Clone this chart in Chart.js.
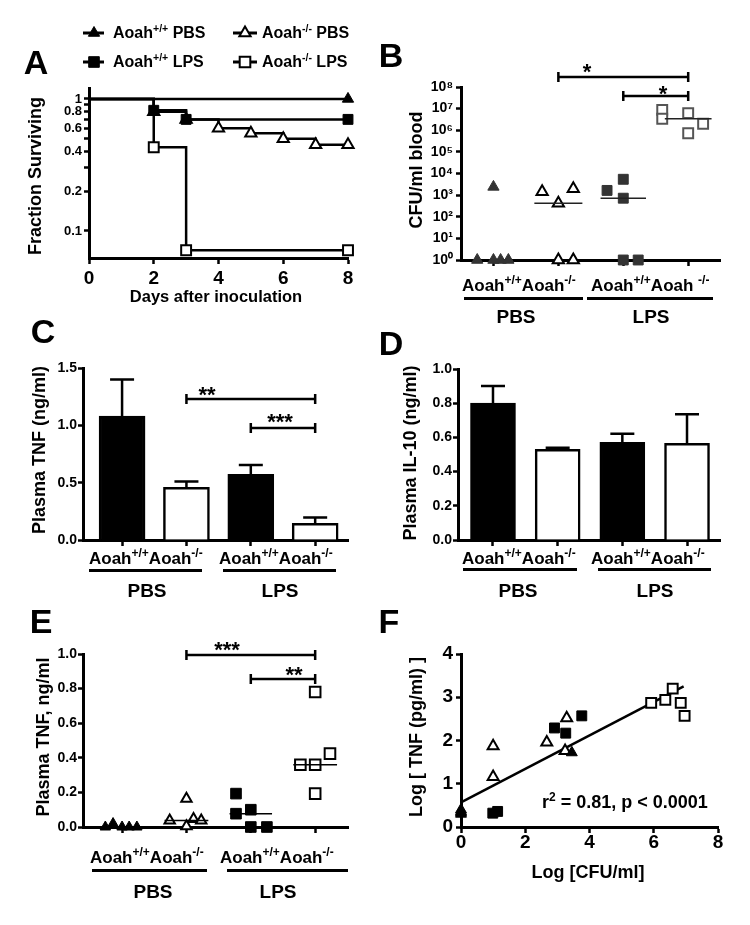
<!DOCTYPE html>
<html>
<head>
<meta charset="utf-8">
<title>Aoah figure</title>
<script src="https://cdn.jsdelivr.net/npm/chart.js@4.4.1/dist/chart.umd.min.js"></script>
<style>
  html, body { margin:0; padding:0; background:#fff; }
  #fig { position:relative; width:750px; height:925px; overflow:hidden; background:#fff;
         font-family:"Liberation Sans", Arial, Helvetica, sans-serif; font-weight:bold; color:#000; }
  #fig canvas { position:absolute; left:0; top:0; width:750px; height:925px; }
  .t { position:absolute; white-space:nowrap; line-height:1; }
  .u { position:absolute; height:3px; background:#000; }
</style>
</head>
<body>
<div id="fig">
  <canvas id="cA" width="750" height="925"></canvas>
  <canvas id="cB" width="750" height="925"></canvas>
  <canvas id="cC" width="750" height="925"></canvas>
  <canvas id="cD" width="750" height="925"></canvas>
  <canvas id="cE" width="750" height="925"></canvas>
  <canvas id="cF" width="750" height="925"></canvas>
</div>
<script>
// ================= DATA =================
// A: survival (fraction surviving vs days)
const daysWtPBS = [0, 8];
const survWtPBS = [1, 1];
const daysWtLPS = [0, 2, 3, 8];
const survWtLPS = [1, 0.82, 0.70, 0.70];
const daysKoPBS = [0, 2, 3, 4, 5, 6, 7, 8];
const survKoPBS = [1, 0.80, 0.70, 0.60, 0.55, 0.50, 0.45, 0.45];
const daysKoLPS = [0, 2, 3, 8];
const survKoLPS = [1, 0.43, 0.0714, 0.0714];
const xTicksA = [0, 2, 4, 6, 8];
const yTicksA = [0.1, 0.2, 0.4, 0.6, 0.8, 1];
const yMinorTicksA = [0.3, 0.5, 0.7, 0.9];

// groups (shared by B–E)
const groupIdx = [1, 2, 3, 4];

// B: CFU/ml blood (log)
const cfuWtPBS = [1, 1, 1, 1, 2400];
const cfuKoPBS = [1450, 420, 1950, 1, 1];
const cfuWtLPS = [1650, 5400, 720, 1, 1];
const cfuKoLPS = [8.8e6, 3.4e6, 6.2e6, 7.3e5, 2.0e6];
const jitB_WtPBS = [-0.25, 0, 0.11, 0.23, 0];
const jitB_KoPBS = [-0.25, 0, 0.23, 0, 0.23];
const jitB_WtLPS = [-0.25, 0, 0, 0, 0.23];
const jitB_KoLPS = [-0.4, -0.4, 0, 0, 0.23];
const yTicksB = [1, 1e1, 1e2, 1e3, 1e4, 1e5, 1e6, 1e7, 1e8];

// C: plasma TNF (ng/ml), mean + SEM
const tnfMeanC = [1.08, 0.46, 0.573, 0.146];
const tnfSemC  = [0.32, 0.05, 0.08, 0.05];
const yTicksC = [0, 0.5, 1.0, 1.5];

// D: plasma IL-10 (ng/ml), mean + SEM
const il10MeanD = [0.80, 0.53, 0.571, 0.565];
const il10SemD  = [0.10, 0.01, 0.05, 0.17];
const yTicksD = [0, 0.2, 0.4, 0.6, 0.8, 1.0];

// E: plasma TNF, ng/ml (individual mice)
const tnfWtPBS = [0, 0.02, 0, 0, 0];
const tnfKoPBS = [0.037, 0.164, 0.005, 0.046, 0.037];
const tnfWtLPS = [0.193, 0.077, 0.10, 0, 0];
const tnfKoLPS = [0.78, 0.36, 0.36, 0.424, 0.193];
const jitE_WtPBS = [-0.26, -0.14, 0, 0.11, 0.23];
const jitE_KoPBS = [-0.26, 0, 0, 0.11, 0.23];
const jitE_WtLPS = [-0.23, -0.23, 0, 0, 0.25];
const jitE_KoLPS = [0, -0.23, 0, 0.23, 0];
const yTicksE = [0, 0.2, 0.4, 0.6, 0.8, 1.0];

// F: log TNF vs log CFU
const logCfuWtPBS = [0, 0, 0, 0, 3.45];
const logTnfWtPBS = [0.30, 0.36, 0.40, 0.33, 1.72];
const logCfuKoPBS = [1.0, 1.0, 2.67, 3.29, 3.24];
const logTnfKoPBS = [1.87, 1.16, 1.96, 2.52, 1.76];
const logCfuWtLPS = [0.99, 1.14, 2.91, 3.26, 3.76];
const logTnfWtLPS = [0.32, 0.36, 2.29, 2.17, 2.57];
const logCfuKoLPS = [5.92, 6.36, 6.59, 6.84, 6.96];
const logTnfKoLPS = [2.87, 2.94, 3.20, 2.87, 2.57];
const fitLineX = [0, 6.93];
const fitLineY = [0.57, 3.25];
const xTicksF = [0, 2, 4, 6, 8];
const yTicksF = [0, 1, 2, 3, 4];

// significance brackets (group from, group to, height in data units, label)
const bracketsB = [{ from: 2, to: 4, y: 2.9e8 }, { from: 3, to: 4, y: 3.8e7 }];
const bracketsC = [{ from: 2, to: 4, y: 1.23 }, { from: 3, to: 4, y: 0.977 }];
const bracketsE = [{ from: 2, to: 4, y: 0.994 }, { from: 3, to: 4, y: 0.855 }];

// ================= STYLE / HELPERS =================
const FONT = '"Liberation Sans", Arial, Helvetica, sans-serif';
Chart.defaults.font.family = FONT;
Chart.defaults.font.weight = 'bold';
Chart.defaults.color = '#000';
Chart.defaults.animation = false;
Chart.defaults.plugins.legend.display = false;
Chart.defaults.plugins.tooltip.enabled = false;
const SUPD = ['\u2070','\u00B9','\u00B2','\u00B3','\u2074','\u2075','\u2076','\u2077','\u2078','\u2079'];

function layout(a, yW, xH) {
  return { padding: { left: a.l - yW, right: 750 - a.r, top: a.t, bottom: 925 - a.b - xH } };
}
function axis(o) {
  return {
    type: o.type, position: o.pos, min: o.min, max: o.max, offset: false,
    grid: { display: true, drawOnChartArea: false, drawTicks: true, tickLength: o.tl,
            tickWidth: 2.5, tickColor: '#000', color: '#000', offset: false },
    border: { display: true, color: '#000', width: 3 },
    ticks: { autoSkip: false, maxRotation: 0, minRotation: 0, padding: o.pad, color: '#000',
             font: { size: o.fs, weight: 'bold', lineHeight: 1 }, callback: o.cb },
    afterBuildTicks: s => { s.ticks = o.ticks.map(v => ({ value: v })); },
    afterFit: s => { if (o.pos === 'left') s.width = o.size; else s.height = o.size; }
  };
}
const median = arr => { const s = [...arr].sort((a, b) => a - b); return s[Math.floor(s.length / 2)]; };

function pts(g, vals, jit, style, fill, stroke, r, bw) {
  return { data: vals.map((v, i) => ({ x: g + jit[i], y: v })), pointStyle: style, pointRadius: r,
           pointBackgroundColor: fill, pointBorderColor: stroke, pointBorderWidth: bw,
           showLine: false, clip: false };
}
function medLine(g, vals, half, color) {
  const m = median(vals);
  return { data: [{ x: g - half, y: m }, { x: g + half, y: m }], showLine: true, borderColor: color,
           borderWidth: 1.5, pointRadius: 0, fill: false, clip: false };
}
function bracketPlugin(list) {
  return { id: 'brk', afterDraw(chart) {
    const c = chart.ctx, xs = chart.scales.x, ys = chart.scales.y;
    c.save(); c.strokeStyle = '#000'; c.lineWidth = 2.5;
    list.forEach(b => {
      const x1 = xs.getPixelForValue(b.from), x2 = xs.getPixelForValue(b.to), y = ys.getPixelForValue(b.y);
      c.beginPath();
      c.moveTo(x1, y); c.lineTo(x2, y);
      c.moveTo(x1, y - 5); c.lineTo(x1, y + 5);
      c.moveTo(x2, y - 5); c.lineTo(x2, y + 5);
      c.stroke();
    });
    c.restore();
  } };
}
function errPlugin(sem) {
  return { id: 'err', afterDatasetsDraw(chart) {
    const c = chart.ctx, ys = chart.scales.y, meta = chart.getDatasetMeta(0), d = chart.data.datasets[0].data;
    c.save(); c.strokeStyle = '#000'; c.lineWidth = 2.5;
    meta.data.forEach((bar, i) => {
      const top = ys.getPixelForValue(d[i].y + sem[i]);
      c.beginPath();
      c.moveTo(bar.x, bar.y); c.lineTo(bar.x, top);
      c.moveTo(bar.x - 12, top); c.lineTo(bar.x + 12, top);
      c.stroke();
    });
    c.restore();
  } };
}

// ================= A =================
function survDs(xs, ys, style, filled, r) {
  return { data: xs.map((x, i) => ({ x, y: ys[i] })), stepped: 'before', borderColor: '#000', borderWidth: 2.5,
           fill: false, pointStyle: style, pointRadius: xs.map((x, i) => i === 0 ? 0 : r),
           pointBackgroundColor: filled ? '#000' : '#fff', pointBorderColor: '#000',
           pointBorderWidth: filled ? 1 : 2, clip: false };
}
const legendA = { id: 'legA', afterDraw(chart) {
  const c = chart.ctx;
  const items = [[94, 33, 'triangle', true, 83, 104], [245, 33, 'triangle', false, 233, 257],
                 [94, 62, 'rect', true, 83, 104], [245, 62, 'rect', false, 233, 257]];
  c.save();
  items.forEach(([x, y, st, f, l1, l2]) => {
    c.strokeStyle = '#000'; c.lineWidth = 3;
    c.beginPath(); c.moveTo(l1, y); c.lineTo(l2, y); c.stroke();
    c.fillStyle = f ? '#000' : '#fff'; c.lineWidth = f ? 1 : 2;
    Chart.helpers.drawPoint(c, { pointStyle: st, radius: st === 'rect' ? 7.5 : 6.5, borderWidth: f ? 1 : 2, rotation: 0 }, x, y);
  });
  c.restore();
} };
const areaA = { l: 89, r: 348, t: 88, b: 258 };
new Chart(document.getElementById('cA'), {
  type: 'line',
  data: { datasets: [
    survDs(daysKoLPS, survKoLPS, 'rect', false, 7),
    survDs(daysWtLPS, survWtLPS, 'rect', true, 7),
    survDs(daysKoPBS, survKoPBS, 'triangle', false, 6.5),
    survDs(daysWtPBS, survWtPBS, 'triangle', true, 6.5)
  ] },
  options: { responsive: false, layout: layout(areaA, 50, 45),
    scales: {
      x: axis({ type: 'linear', pos: 'bottom', min: 0, max: 8, ticks: xTicksA, fs: 19, tl: 6, pad: 5.5, size: 45, cb: v => String(v) }),
      y: axis({ type: 'logarithmic', pos: 'left', min: 0.0624, max: 1.21, ticks: [...yTicksA, ...yMinorTicksA].sort((a,b)=>a-b),
                fs: 13, tl: 5, pad: 2, size: 50, cb: v => yTicksA.some(t => Math.abs(t - v) < 1e-9) ? String(v) : '' })
    } },
  plugins: [legendA]
});

// ================= B =================
const areaB = { l: 461, r: 720, t: 87, b: 260 };
new Chart(document.getElementById('cB'), {
  type: 'scatter',
  data: { datasets: [
    medLine(2, cfuKoPBS, 0.37, '#222'), medLine(3, cfuWtLPS, 0.35, '#222'), medLine(4, cfuKoLPS, 0.36, '#222'),
    pts(1, cfuWtPBS, jitB_WtPBS, 'triangle', '#333', '#333', 6.5, 1),
    pts(2, cfuKoPBS, jitB_KoPBS, 'triangle', '#fff', '#000', 6.5, 2),
    pts(3, cfuWtLPS, jitB_WtLPS, 'rect', '#333', '#333', 7, 1),
    pts(4, cfuKoLPS, jitB_KoLPS, 'rect', '#fff', '#555', 7, 2)
  ] },
  options: { responsive: false, layout: layout(areaB, 50, 20),
    scales: {
      x: axis({ type: 'linear', pos: 'bottom', min: 0.5, max: 4.49, ticks: groupIdx, fs: 12, tl: 6, pad: 2, size: 20, cb: () => '' }),
      y: axis({ type: 'logarithmic', pos: 'left', min: 1, max: 1e8, ticks: yTicksB, fs: 14, tl: 5, pad: 3, size: 50,
                cb: v => '10' + SUPD[Math.round(Math.log10(v))] })
    } },
  plugins: [bracketPlugin(bracketsB)]
});

// ================= C =================
const areaC = { l: 83, r: 348, t: 368, b: 540 };
new Chart(document.getElementById('cC'), {
  type: 'bar',
  data: { datasets: [{ data: groupIdx.map((g, i) => ({ x: g, y: tnfMeanC[i] })),
    backgroundColor: ['#000', '#fff', '#000', '#fff'], borderColor: '#000', borderWidth: 2.5, barThickness: 46 }] },
  options: { responsive: false, layout: layout(areaC, 45, 20),
    scales: {
      x: axis({ type: 'linear', pos: 'bottom', min: 0.393, max: 4.51, ticks: groupIdx, fs: 12, tl: 6, pad: 2, size: 20, cb: () => '' }),
      y: axis({ type: 'linear', pos: 'left', min: 0, max: 1.5, ticks: yTicksC, fs: 14, tl: 5, pad: 1, size: 45, cb: v => v.toFixed(1) })
    } },
  plugins: [errPlugin(tnfSemC), bracketPlugin(bracketsC)]
});

// ================= D =================
const areaD = { l: 458, r: 720, t: 369, b: 540 };
new Chart(document.getElementById('cD'), {
  type: 'bar',
  data: { datasets: [{ data: groupIdx.map((g, i) => ({ x: g, y: il10MeanD[i] })),
    backgroundColor: ['#000', '#fff', '#000', '#fff'], borderColor: '#000', borderWidth: 2.5, barThickness: 45 }] },
  options: { responsive: false, layout: layout(areaD, 45, 20),
    scales: {
      x: axis({ type: 'linear', pos: 'bottom', min: 0.459, max: 4.51, ticks: groupIdx, fs: 12, tl: 6, pad: 2, size: 20, cb: () => '' }),
      y: axis({ type: 'linear', pos: 'left', min: 0, max: 1.0, ticks: yTicksD, fs: 14, tl: 5, pad: 1, size: 45, cb: v => v.toFixed(1) })
    } },
  plugins: [errPlugin(il10SemD)]
});

// ================= E =================
const areaE = { l: 83, r: 348, t: 654, b: 827 };
new Chart(document.getElementById('cE'), {
  type: 'scatter',
  data: { datasets: [
    medLine(2, tnfKoPBS, 0.34, '#000'), medLine(3, tnfWtLPS, 0.33, '#000'), medLine(4, tnfKoLPS, 0.34, '#000'),
    pts(1, tnfWtPBS, jitE_WtPBS, 'triangle', '#000', '#000', 6, 1),
    pts(2, tnfKoPBS, jitE_KoPBS, 'triangle', '#fff', '#000', 6, 2),
    pts(3, tnfWtLPS, jitE_WtLPS, 'rect', '#000', '#000', 7.5, 1),
    pts(4, tnfKoLPS, jitE_KoLPS, 'rect', '#fff', '#000', 7.5, 2)
  ] },
  options: { responsive: false, layout: layout(areaE, 45, 20),
    scales: {
      x: axis({ type: 'linear', pos: 'bottom', min: 0.393, max: 4.51, ticks: groupIdx, fs: 12, tl: 6, pad: 2, size: 20, cb: () => '' }),
      y: axis({ type: 'linear', pos: 'left', min: 0, max: 1.0, ticks: yTicksE, fs: 14, tl: 5, pad: 1, size: 45, cb: v => v.toFixed(1) })
    } },
  plugins: [bracketPlugin(bracketsE)]
});

// ================= F =================
function xy(xs, ys) { return xs.map((x, i) => ({ x, y: ys[i] })); }
function ptsF(xs, ys, style, fill, r, bw) {
  return { data: xy(xs, ys), pointStyle: style, pointRadius: r, pointBackgroundColor: fill,
           pointBorderColor: '#000', pointBorderWidth: bw, showLine: false, clip: false };
}
const areaF = { l: 461, r: 718, t: 654, b: 827 };
new Chart(document.getElementById('cF'), {
  type: 'scatter',
  data: { datasets: [
    ptsF(logCfuWtPBS, logTnfWtPBS, 'triangle', '#000', 6.3, 1),
    ptsF(logCfuWtLPS, logTnfWtLPS, 'rect', '#000', 7, 1),
    ptsF(logCfuKoPBS, logTnfKoPBS, 'triangle', '#fff', 6.3, 2),
    ptsF(logCfuKoLPS, logTnfKoLPS, 'rect', '#fff', 7, 2),
    { data: xy(fitLineX, fitLineY), showLine: true, borderColor: '#000', borderWidth: 2.5, pointRadius: 0, fill: false, clip: false }
  ] },
  options: { responsive: false, layout: layout(areaF, 45, 45),
    scales: {
      x: axis({ type: 'linear', pos: 'bottom', min: 0, max: 8, ticks: xTicksF, fs: 19, tl: 6, pad: 0.5, size: 45, cb: v => String(v) }),
      y: axis({ type: 'linear', pos: 'left', min: 0, max: 4, ticks: yTicksF, fs: 19, tl: 5, pad: 3, size: 45, cb: v => String(v) })
    } }
});

// ================= TEXT OVERLAY =================
const fig = document.getElementById('fig');
function addText(html, x, y, size, mode, rot) {
  const d = document.createElement('div');
  d.className = 't'; d.innerHTML = html;
  d.style.fontSize = size + 'px'; d.style.left = x + 'px'; d.style.top = y + 'px';
  let tf = mode === 'l' ? 'translate(0,-50%)' : 'translate(-50%,-50%)';
  if (rot) tf += ' rotate(-90deg)';
  d.style.transform = tf;
  fig.appendChild(d);
}
function addLine(x1, x2, y) {
  const d = document.createElement('div'); d.className = 'u';
  d.style.left = x1 + 'px'; d.style.width = (x2 - x1) + 'px'; d.style.top = (y - 1.5) + 'px';
  fig.appendChild(d);
}
const sp = (s, px, dy) => `<span style="font-size:${px}px;position:relative;top:${dy}px">${s}</span>`;

// panel letters
[['A', 36, 62], ['B', 391, 55], ['C', 43, 331], ['D', 391, 343], ['E', 41, 621], ['F', 389, 621]]
  .forEach(([s, x, y]) => addText(s, x, y, 34, 'c'));

// legend A
addText('Aoah' + sp('+/+', 10.5, -6) + ' PBS', 113, 33, 16, 'l');
addText('Aoah' + sp('-/-', 10.5, -6) + ' PBS', 262, 33, 16, 'l');
addText('Aoah' + sp('+/+', 10.5, -6) + ' LPS', 113, 62, 16, 'l');
addText('Aoah' + sp('-/-', 10.5, -6) + ' LPS', 262, 62, 16, 'l');

// axis titles
addText('Fraction Surviving', 35, 176, 18, 'c', true);
addText('Days after inoculation', 216, 296, 16.5, 'c');
addText('CFU/ml blood', 416, 170, 18, 'c', true);
addText('Plasma TNF (ng/ml)', 39, 450, 18, 'c', true);
addText('Plasma IL-10 (ng/ml)', 410, 453, 18, 'c', true);
addText('Plasma TNF, ng/ml', 43, 737, 18, 'c', true);
addText('Log [ TNF (pg/ml) ]', 416, 737, 18, 'c', true);
addText('Log [CFU/ml]', 588, 872, 18, 'c');
addText('r' + sp('2', 12, -7) + ' = 0.81, p &lt; 0.0001', 542, 802, 18, 'l');

// significance stars
addText('*', 587, 72, 22, 'c'); addText('*', 663, 94, 22, 'c');
addText('**', 207, 395, 22, 'c'); addText('***', 280, 422, 22, 'c');
addText('***', 227, 650, 22, 'c'); addText('**', 294, 675, 22, 'c');

// group labels
const wt = 'Aoah' + sp('+/+', 12, -7), ko = 'Aoah' + sp('-/-', 12, -7), ko2 = 'Aoah ' + sp('-/-', 12, -7);
function groupRows(cy, l1, l2, second, uy, u, gy, pbsX, lpsX) {
  addText(wt + ko, l1, cy, 17, 'l');
  addText(wt + second, l2, cy, 17, 'l');
  addLine(u[0], u[1], uy); addLine(u[2], u[3], uy);
  addText('PBS', pbsX, gy, 19, 'c'); addText('LPS', lpsX, gy, 19, 'c');
}
groupRows(285, 462, 591, ko2, 298, [464, 583, 587, 713], 316, 516, 651);
groupRows(558, 89, 219, ko, 570, [89, 202, 223, 336], 590, 147, 280);
groupRows(558, 462, 591, ko, 569, [463, 577, 598, 711], 590, 518, 655);
groupRows(857, 90, 220, ko, 870, [92, 207, 227, 348], 891, 153, 278);
</script>
</body>
</html>
